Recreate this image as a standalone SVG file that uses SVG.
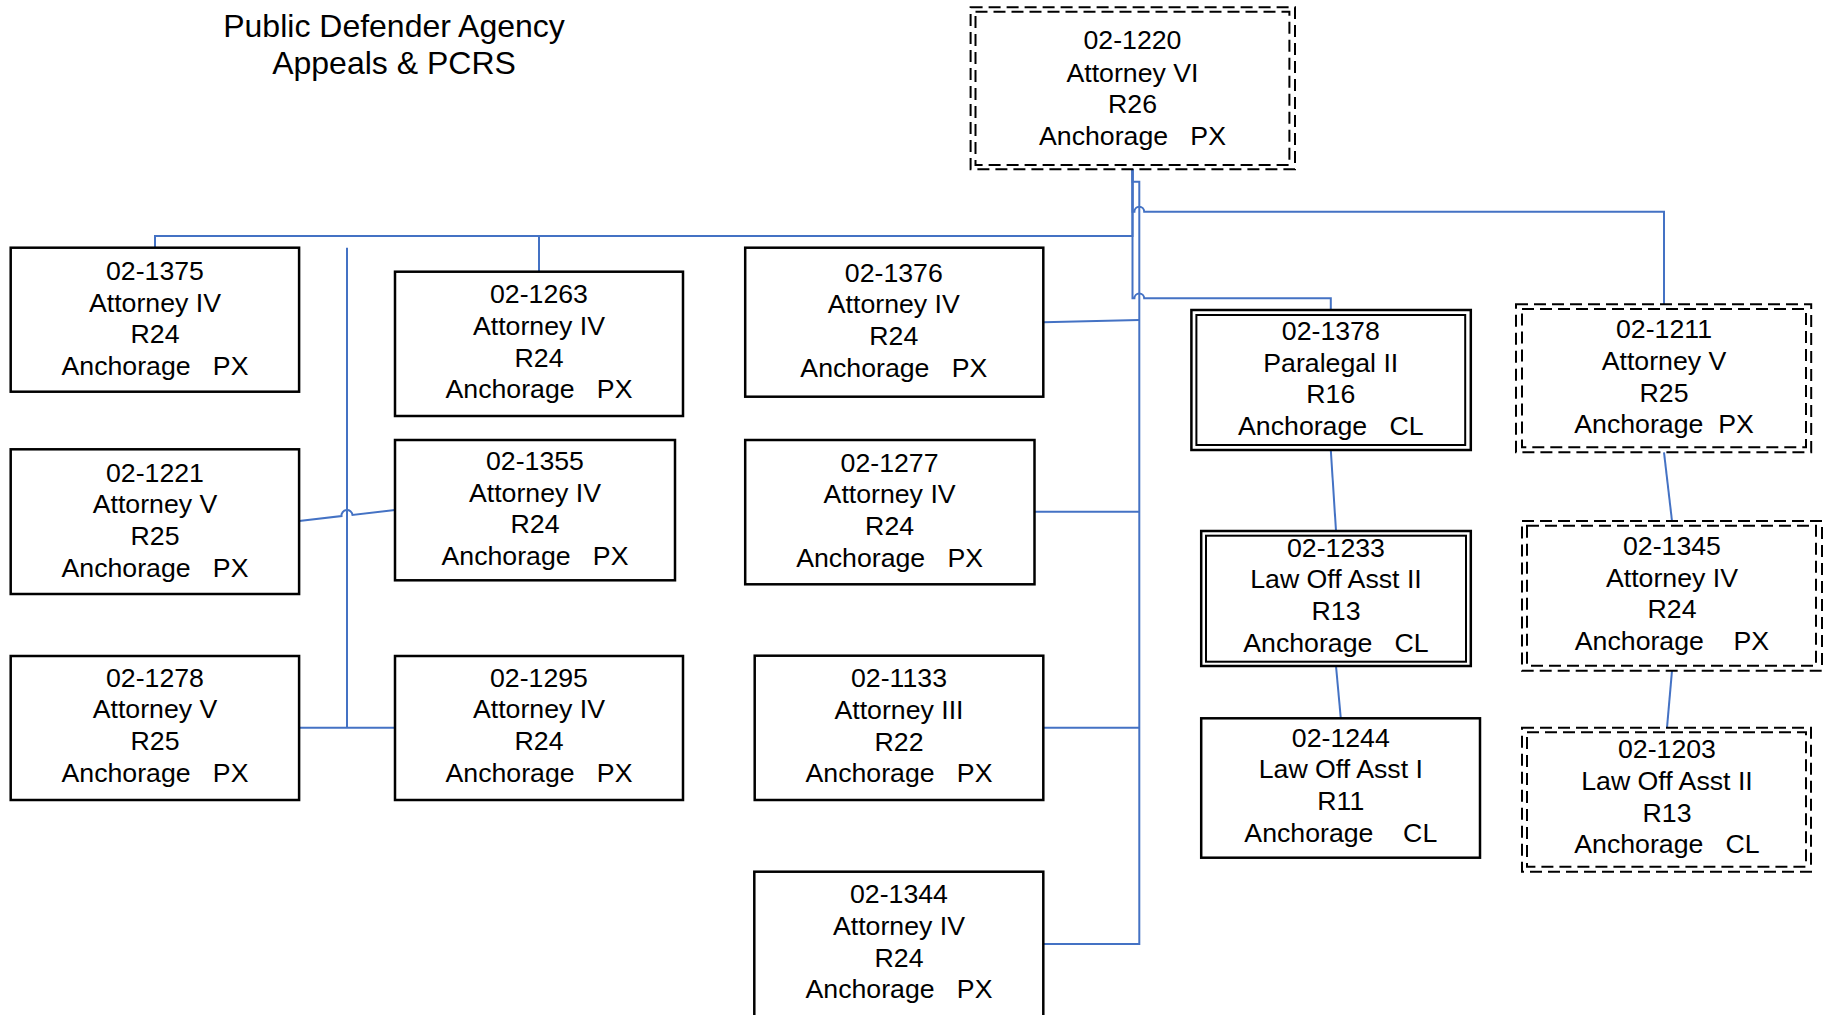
<svg xmlns="http://www.w3.org/2000/svg" width="1827" height="1015" viewBox="0 0 1827 1015">
<style>
text{font-family:"Liberation Sans",Arial,sans-serif;font-size:26.7px;fill:#000;text-anchor:middle;white-space:pre}
.title{font-size:32px}
.box{fill:#fff;stroke:#000;stroke-width:2.5}
.dbl{fill:none;stroke:#000;stroke-width:2}
.dash{fill:none;stroke:#000;stroke-width:2;stroke-dasharray:12 6}
.conn{fill:none;stroke:#4472C4;stroke-width:2}
</style>
<rect width="1827" height="1015" fill="#fff"/>
<g id="title">
<text class="title" x="394" y="37">Public Defender Agency</text>
<text class="title" x="394" y="74">Appeals &amp; PCRS</text>
</g>
<g id="connectors">
<path class="conn" d="M1132.5,169 V236 H155 V247.7"/>
<path class="conn" d="M539,236 V271.7"/>
<path class="conn" d="M1132.5,169 V211.7 H1134.4 A4.9,4.9 0 0 1 1144.2,211.7 H1664 V304.3"/>
<path class="conn" d="M1132.5,169 V298.3 H1134.4 A4.9,4.9 0 0 1 1144.2,298.3 H1330.8 V310"/>
<path class="conn" d="M1132.5,169 V181.7 H1139.3 V944 H1043.3"/>
<path class="conn" d="M1043.3,322.3 L1139.3,320"/>
<path class="conn" d="M1034.5,511.7 H1139.3"/>
<path class="conn" d="M1043.3,727.7 H1139.3"/>
<path class="conn" d="M347,247.7 V727.7"/>
<path class="conn" d="M299.1,727.7 H395"/>
<path class="conn" d="M299.1,521 L341.5,516.1 A5.5,5.5 0 0 1 352.5,514.9 L395,510"/>
<path class="conn" d="M1330.8,450 L1336,531"/>
<path class="conn" d="M1336,666 L1340.8,718.3"/>
<path class="conn" d="M1664,452.3 L1672,521"/>
<path class="conn" d="M1672,670.7 L1667,727.7"/>
</g>
<g id="n1220">
<rect class="dash" x="970.6" y="7.3" width="324.4" height="162"/>
<rect class="dash" x="975.5" y="11.7" width="313.9" height="153.3"/>
<text x="1132.5"><tspan x="1132.5" y="49.3">02-1220</tspan><tspan x="1132.5" y="81.7">Attorney VI</tspan><tspan x="1132.5" y="113.3">R26</tspan><tspan x="1132.5" y="145">Anchorage   PX</tspan></text>
</g>
<g id="n1375">
<rect class="box" x="10.7" y="247.7" width="288.4" height="144"/>
<text><tspan x="155" y="280">02-1375</tspan><tspan x="155" y="311.7">Attorney IV</tspan><tspan x="155" y="343.3">R24</tspan><tspan x="155" y="375">Anchorage   PX</tspan></text>
</g>
<g id="n1263">
<rect class="box" x="395" y="271.7" width="288" height="144.3"/>
<text><tspan x="539" y="303.3">02-1263</tspan><tspan x="539" y="335">Attorney IV</tspan><tspan x="539" y="366.7">R24</tspan><tspan x="539" y="398.3">Anchorage   PX</tspan></text>
</g>
<g id="n1376">
<rect class="box" x="745.2" y="247.7" width="298.1" height="149"/>
<text><tspan x="893.8" y="281.7">02-1376</tspan><tspan x="893.8" y="313.3">Attorney IV</tspan><tspan x="893.8" y="345">R24</tspan><tspan x="893.8" y="376.7">Anchorage   PX</tspan></text>
</g>
<g id="n1378">
<rect class="box" x="1191.4" y="310" width="279.4" height="140"/>
<rect class="dbl" x="1196.4" y="315" width="268.8" height="130"/>
<text><tspan x="1330.8" y="340">02-1378</tspan><tspan x="1330.8" y="371.7">Paralegal II</tspan><tspan x="1330.8" y="403.3">R16</tspan><tspan x="1330.8" y="435">Anchorage   CL</tspan></text>
</g>
<g id="n1211">
<rect class="dash" x="1516" y="304.3" width="295.2" height="148"/>
<rect class="dash" x="1522" y="309" width="284" height="138.3"/>
<text><tspan x="1664" y="338.3">02-1211</tspan><tspan x="1664" y="370">Attorney V</tspan><tspan x="1664" y="401.7">R25</tspan><tspan x="1664" y="433.3">Anchorage  PX</tspan></text>
</g>
<g id="n1221">
<rect class="box" x="10.7" y="449.3" width="288.4" height="144.7"/>
<text><tspan x="155" y="481.7">02-1221</tspan><tspan x="155" y="513.3">Attorney V</tspan><tspan x="155" y="545">R25</tspan><tspan x="155" y="576.7">Anchorage   PX</tspan></text>
</g>
<g id="n1355">
<rect class="box" x="395" y="440" width="280" height="140.3"/>
<text><tspan x="535" y="470">02-1355</tspan><tspan x="535" y="501.7">Attorney IV</tspan><tspan x="535" y="533.3">R24</tspan><tspan x="535" y="565">Anchorage   PX</tspan></text>
</g>
<g id="n1277">
<rect class="box" x="745.2" y="440" width="289.3" height="144.3"/>
<text><tspan x="889.6" y="471.7">02-1277</tspan><tspan x="889.6" y="503.3">Attorney IV</tspan><tspan x="889.6" y="535">R24</tspan><tspan x="889.6" y="566.7">Anchorage   PX</tspan></text>
</g>
<g id="n1233">
<rect class="box" x="1201.2" y="531" width="269.6" height="135"/>
<rect class="dbl" x="1206" y="535.7" width="260" height="126"/>
<text><tspan x="1336" y="556.7">02-1233</tspan><tspan x="1336" y="588.3">Law Off Asst II</tspan><tspan x="1336" y="620">R13</tspan><tspan x="1336" y="651.7">Anchorage   CL</tspan></text>
</g>
<g id="n1345">
<rect class="dash" x="1522" y="521" width="300" height="149.7"/>
<rect class="dash" x="1527" y="525.7" width="289" height="140"/>
<text><tspan x="1672" y="555">02-1345</tspan><tspan x="1672" y="586.7">Attorney IV</tspan><tspan x="1672" y="618.3">R24</tspan><tspan x="1672" y="650">Anchorage    PX</tspan></text>
</g>
<g id="n1278">
<rect class="box" x="10.7" y="656" width="288.4" height="144"/>
<text><tspan x="155" y="686.7">02-1278</tspan><tspan x="155" y="718.3">Attorney V</tspan><tspan x="155" y="750">R25</tspan><tspan x="155" y="781.7">Anchorage   PX</tspan></text>
</g>
<g id="n1295">
<rect class="box" x="395" y="656" width="288" height="144"/>
<text><tspan x="539" y="686.7">02-1295</tspan><tspan x="539" y="718.3">Attorney IV</tspan><tspan x="539" y="750">R24</tspan><tspan x="539" y="781.7">Anchorage   PX</tspan></text>
</g>
<g id="n1133">
<rect class="box" x="754.7" y="655.7" width="288.6" height="144.3"/>
<text><tspan x="899" y="686.7">02-1133</tspan><tspan x="899" y="719">Attorney III</tspan><tspan x="899" y="750.7">R22</tspan><tspan x="899" y="782.3">Anchorage   PX</tspan></text>
</g>
<g id="n1244">
<rect class="box" x="1201.2" y="718.3" width="278.8" height="139.4"/>
<text><tspan x="1340.8" y="746.7">02-1244</tspan><tspan x="1340.8" y="778.3">Law Off Asst I</tspan><tspan x="1340.8" y="810">R11</tspan><tspan x="1340.8" y="841.7">Anchorage    CL</tspan></text>
</g>
<g id="n1203">
<rect class="dash" x="1522" y="727.7" width="289" height="144"/>
<rect class="dash" x="1527" y="732.3" width="279" height="134.4"/>
<text><tspan x="1667" y="758.3">02-1203</tspan><tspan x="1667" y="790">Law Off Asst II</tspan><tspan x="1667" y="821.7">R13</tspan><tspan x="1667" y="853.3">Anchorage   CL</tspan></text>
</g>
<g id="n1344">
<rect class="box" x="754.3" y="871.7" width="289" height="150"/>
<text><tspan x="899" y="903.3">02-1344</tspan><tspan x="899" y="935">Attorney IV</tspan><tspan x="899" y="966.7">R24</tspan><tspan x="899" y="998.3">Anchorage   PX</tspan></text>
</g>
</svg>
